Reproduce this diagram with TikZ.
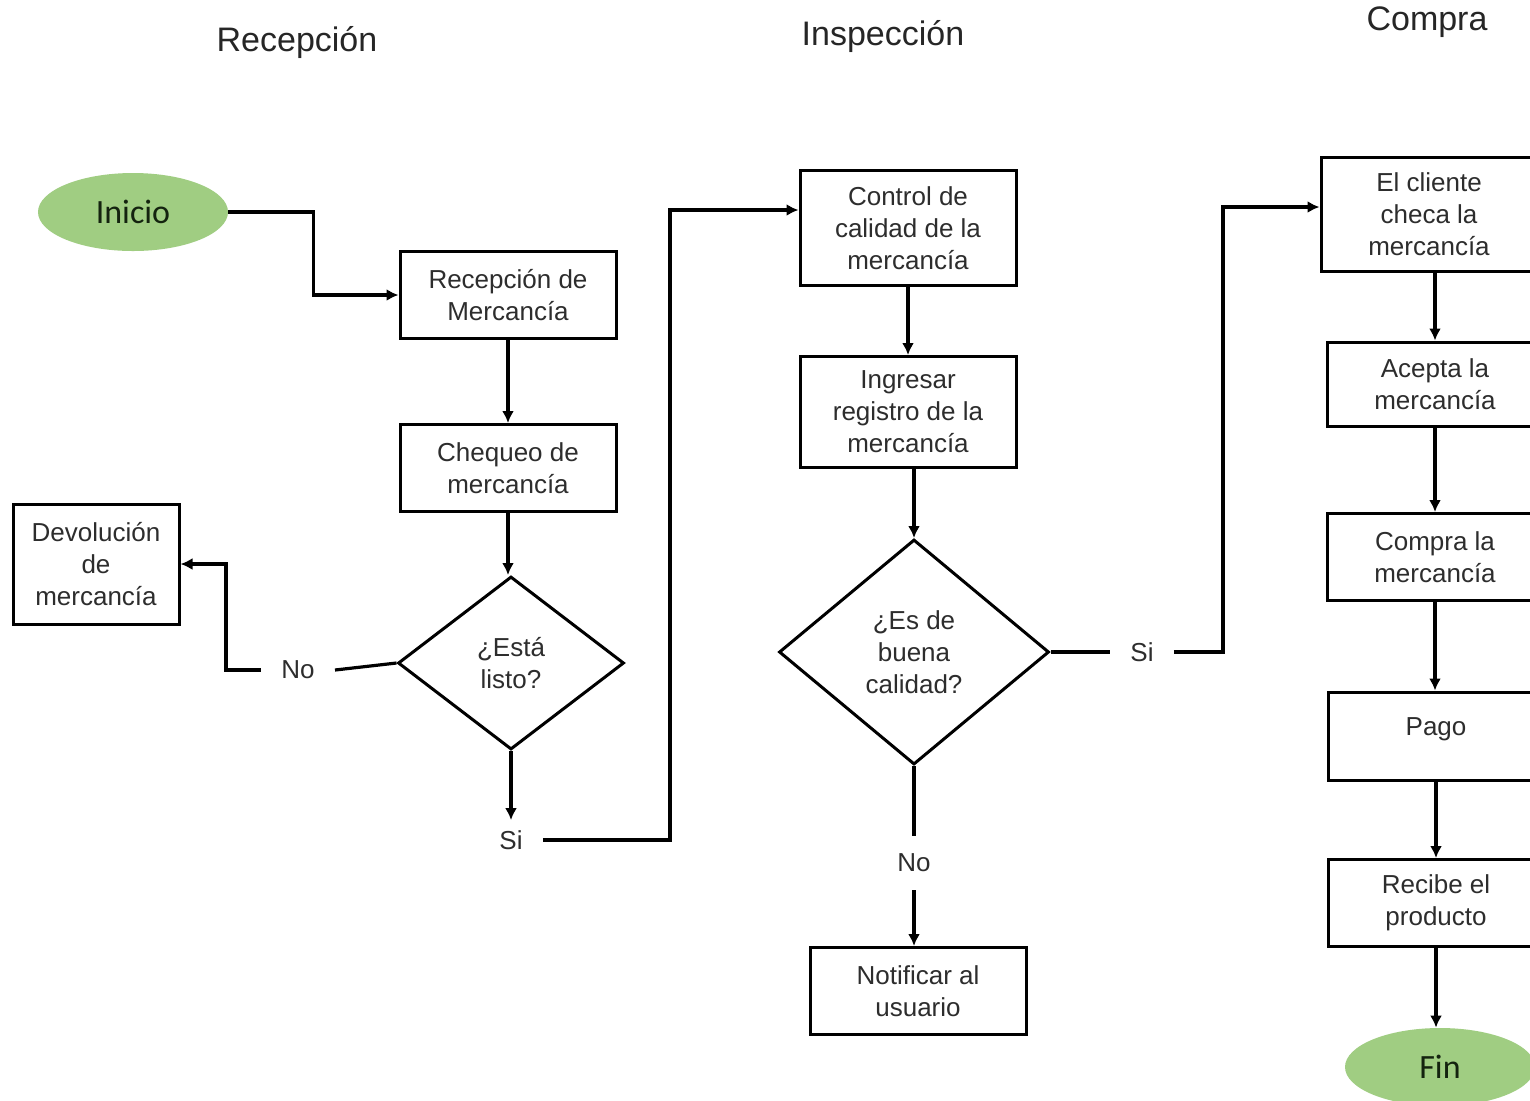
\documentclass[tikz,border=0pt]{standalone}
\usepackage{fontspec}
\setmainfont{Liberation Sans}
\newfontfamily\calib{Carlito}
\usetikzlibrary{shapes.geometric,arrows.meta}
\definecolor{termgreen}{RGB}{160,205,130}
\definecolor{txt}{RGB}{45,45,45}
\definecolor{termtxt}{RGB}{20,35,15}
\begin{document}
\begin{tikzpicture}[x=0.5pt,y=-0.5pt,
 every node/.style={font=\fontsize{13}{16}\selectfont, text=txt},
 box/.style={draw=black, line width=1.5pt, align=center, minimum width=108pt, minimum height=43.5pt, inner sep=2pt},
 dec/.style={draw=black, line width=1.5pt, shape=diamond, align=center, inner sep=0pt},
 term/.style={ellipse, fill=termgreen, minimum width=95pt, minimum height=39pt, font=\calib\fontsize{17}{20}\selectfont, text=termtxt},
 title/.style={font=\fontsize{17}{20}\selectfont, text=black!85},
 lbl/.style={inner xsep=10pt, inner ysep=5pt},
 conn/.style={draw=black, line width=1.6pt, -{Latex[length=6pt,width=6pt]}},
 plain/.style={draw=black, line width=1.6pt}]
\useasboundingbox (0,0) rectangle (1530,1100);
\clip (0,0) rectangle (1530,1100);
\fill[white] (0,0) rectangle (1530,1100);
% titles
\node[title] (t1) at (297,42) {Recepción};
\node[title] (t2) at (883,36) {Inspección};
\node[title] (t3) at (1427,22) {Compra};
% column 1
\node[term] (inicio) at (133,212) {Inicio};
\node[box] (rec) at (508,295) {Recepción de\\Mercancía};
\node[box] (cheq) at (508,468) {Chequeo de\\mercancía};
\node[dec, minimum width=113pt, minimum height=86.5pt] (d1) at (511,663) {¿Está\\listo?};
\node[box, minimum width=83pt, minimum height=60pt] (dev) at (96,564) {Devolución\\de\\mercancía};
\node[lbl] (no1) at (298,670) {No};
\node[lbl] (si1) at (511,840) {Si};
% column 2
\node[box, minimum height=57.5pt] (ctrl) at (908,228) {Control de\\calidad de la\\mercancía};
\node[box, minimum height=55.5pt] (ing) at (908,412) {Ingresar\\registro de la\\mercancía};
\node[dec, minimum width=135pt, minimum height=112.5pt] (d2) at (914,652) {¿Es de\\buena\\calidad?};
\node[lbl] (si2) at (1142,652) {Si};
\node[lbl, inner ysep=9pt] (no2) at (914,863) {No};
\node[box] (notif) at (918,991) {Notificar al\\usuario};
% column 3
\node[box, minimum height=57pt] (cli) at (1429,214) {El cliente\\checa la\\mercancía};
\node[box, minimum height=42pt] (acep) at (1435,384) {Acepta la\\mercancía};
\node[box] (comp) at (1435,557) {Compra la\\mercancía};
\node[box, minimum height=44pt, text depth=9pt] (pago) at (1436,736) {Pago};
\node[box] (recibe) at (1436,903) {Recibe el\\producto};
\node[term] (fin) at (1440,1067) {Fin};
% connectors
\draw[conn] (inicio.east) -- ++(85,0) |- (rec.west);
\draw[conn] (rec.south) -- (rec.south |- cheq.north);
\draw[conn] (cheq.south) -- (cheq.south |- d1.north);
\draw[plain] (d1.west) -- (no1.east);
\draw[conn] (no1.west) -- ++(-35,0) |- (dev.east);
\draw[conn] (d1.south) -- (si1.north);
\draw[conn] (si1.east) -- ++(127,0) |- ([yshift=9pt]ctrl.west);
\draw[conn] (ctrl.south) -- (ing.north);
\draw[conn] (d2.north |- ing.south) -- (d2.north);
\draw[plain] (d2.east) -- (si2.west);
\draw[conn] (si2.east) -- ++(49,0) |- ([yshift=3.5pt]cli.west);
\draw[plain] (d2.south) -- (no2.north);
\draw[conn] (no2.south) -- (no2.south |- notif.north);
\draw[conn] (acep.north |- cli.south) -- (acep.north);
\draw[conn] (acep.south) -- (acep.south |- comp.north);
\draw[conn] (comp.south) -- (comp.south |- pago.north);
\draw[conn] (pago.south) -- (pago.south |- recibe.north);
\draw[conn] (recibe.south) -- (recibe.south |- fin.north);
\end{tikzpicture}
\end{document}
